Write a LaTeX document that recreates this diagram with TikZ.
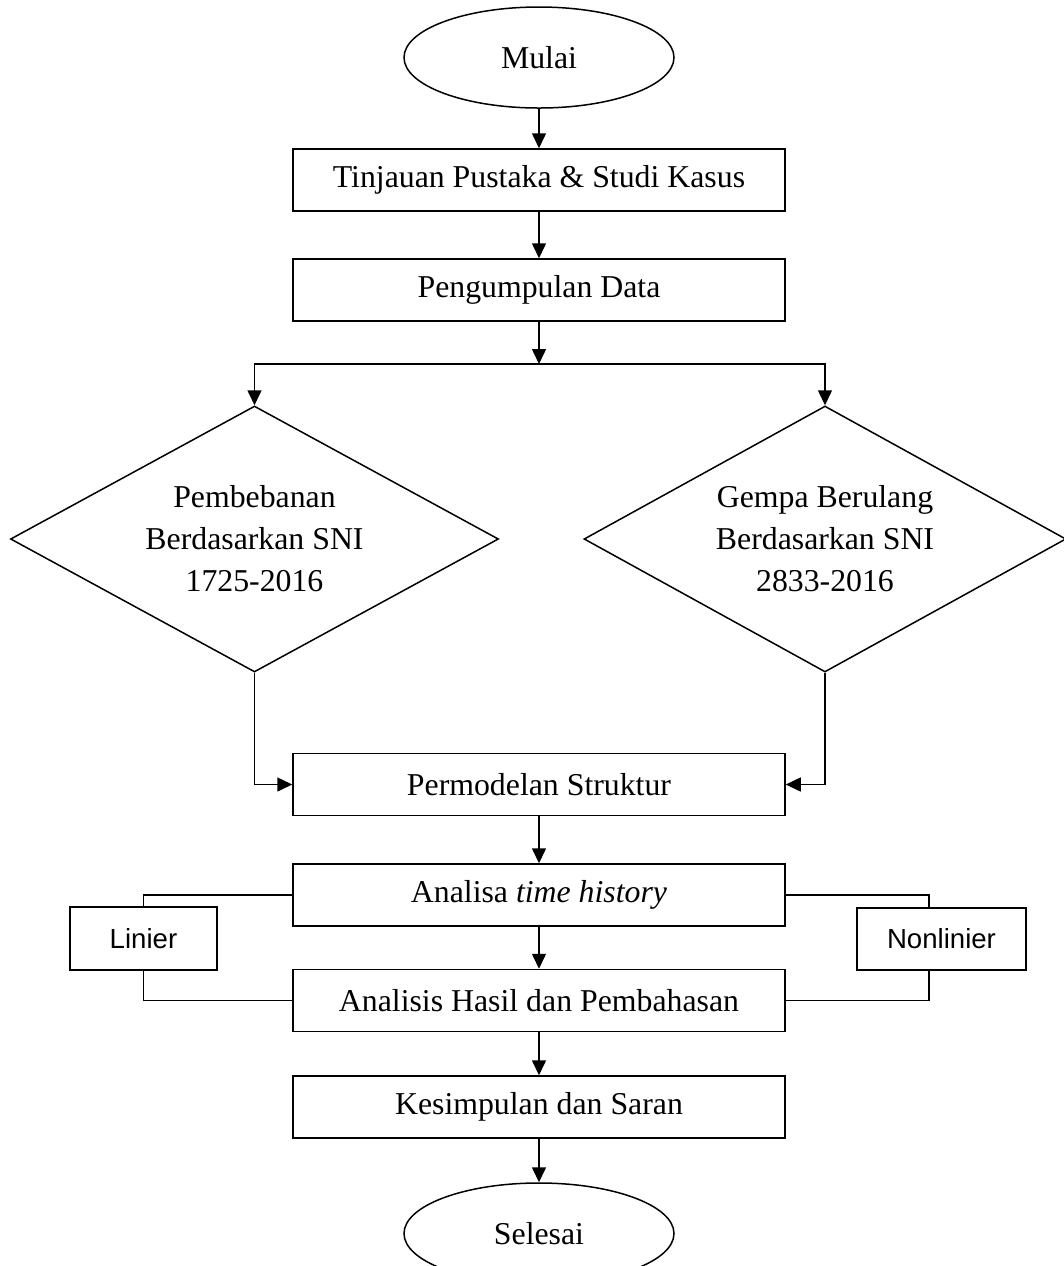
\documentclass[tikz,border=0pt]{standalone}
\usepackage{fontspec}
\setmainfont{Liberation Serif}
\newfontfamily\arialf{Liberation Sans}
\usetikzlibrary{arrows.meta,shapes.geometric}
\begin{document}
\begin{tikzpicture}[x=0.5pt,y=-0.5pt,
  every node/.style={font=\fontsize{15.9pt}{21pt}\selectfont, line width=0.75pt, draw, inner sep=0pt},
  procbox/.style={rectangle, minimum width=246pt, minimum height=31pt},
  term/.style={ellipse, minimum width=135pt, minimum height=50.5pt},
  decis/.style={diamond, aspect=1.83, minimum height=133pt, align=center},
  sidebox/.style={rectangle, font=\arialf\fontsize{13.8pt}{16pt}\selectfont},
  arr/.style={line width=0.75pt, -{Triangle[length=7.5pt,width=7pt]}},
  ln/.style={line width=0.75pt}]
\path[use as bounding box, clip] (0,0) rectangle (1064,1266);

\node[term] (mulai) at (539,57.5) {Mulai};
\node[procbox] (tinj) at (539,180) {Tinjauan Pustaka \& Studi Kasus};
\node[procbox] (peng) at (539,290) {Pengumpulan Data};
\coordinate (split) at (539,364);
\node[decis, minimum width=244pt] (ld) at (254.5,539) {Pembebanan\\Berdasarkan SNI\\1725-2016};
\node[decis, minimum width=241pt] (rd) at (825,539) {Gempa Berulang\\Berdasarkan SNI\\2833-2016};
\node[procbox] (perm) at (539,784.5) {Permodelan Struktur};
\node[procbox] (ana) at (539,895) {Analisa \textit{time history}};
\node[procbox] (hasil) at (539,1000.5) {Analisis Hasil dan Pembahasan};
\node[procbox] (kes) at (539,1107) {Kesimpulan dan Saran};
\node[term] (sel) at (539,1233.5) {Selesai};
\node[sidebox, minimum width=73.5pt, minimum height=31.5pt] (lin) at (143.5,938.5) {Linier};
\node[sidebox, minimum width=84.5pt, minimum height=31pt] (nlin) at (941.5,939) {Nonlinier};

\draw[arr] (mulai) -- (tinj);
\draw[arr] (tinj) -- (peng);
\draw[arr] (peng) -- (split);
\draw[arr] (split) -| (ld.north);
\draw[arr] (split) -| (rd.north);
\draw[arr] (ld.south) |- (perm.west);
\draw[arr] (rd.south) |- (perm.east);
\draw[arr] (perm) -- (ana);
\draw[arr] (ana) -- (hasil);
\draw[arr] (hasil) -- (kes);
\draw[arr] (kes) -- (sel);
\draw[ln] (lin.north) |- (ana.west);
\draw[ln] (lin.south) |- (hasil.west);
\draw[ln] ([xshift=-6.25pt]nlin.north) |- (ana.east);
\draw[ln] ([xshift=-6.25pt]nlin.south) |- (hasil.east);
\end{tikzpicture}
\end{document}
